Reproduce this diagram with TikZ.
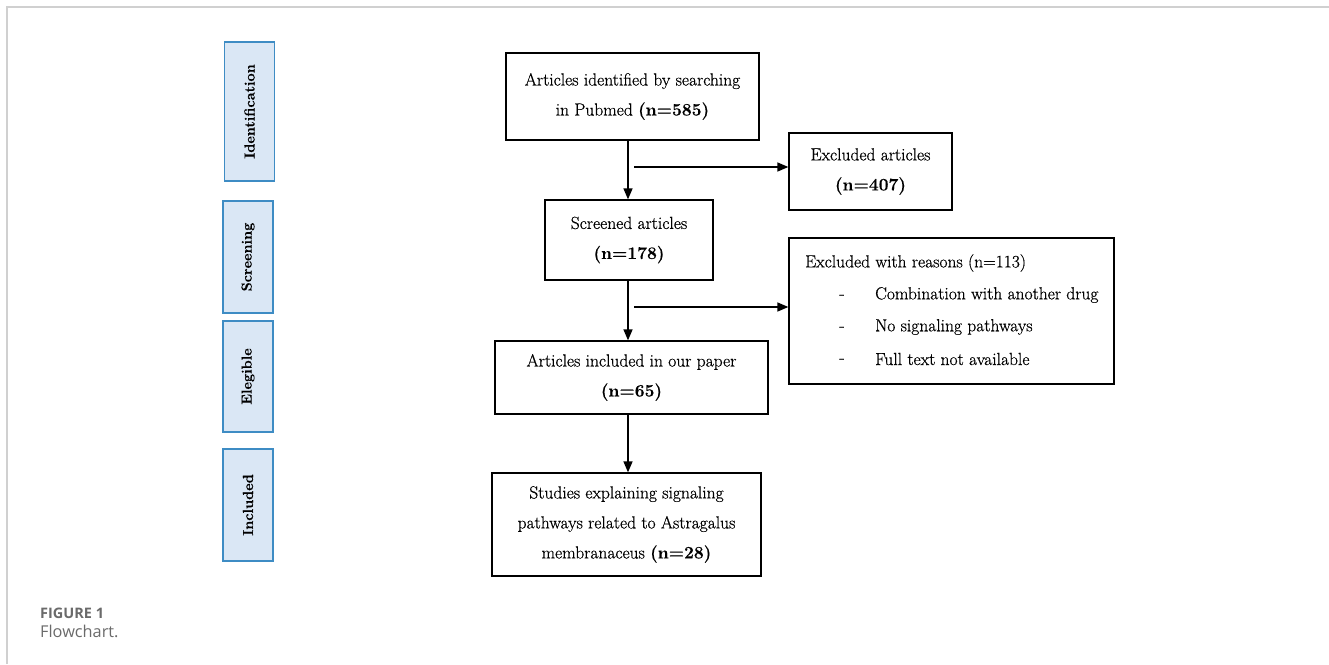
\documentclass[tikz,border=0pt]{standalone}
\usepackage{fontspec}
\newfontfamily\capfont{Open Sans}
\newfontfamily\boxfont{Latin Modern Roman}[FakeBold=0.6, BoldFont={Latin Modern Roman/B}, BoldFeatures={FakeBold=0.3}]
\usetikzlibrary{arrows.meta}
\definecolor{stagefill}{HTML}{DAE7F5}
\definecolor{stageline}{HTML}{3E8CC4}
\definecolor{framegray}{HTML}{D0D0D0}
\definecolor{capgray}{HTML}{6A6A6A}
\tikzset{
  mainbox/.style={draw=black, line width=1.3pt, inner sep=0pt, align=center,
    font=\boxfont\fontsize{17.5}{30}\selectfont},
  stagebox/.style={draw=stageline, fill=stagefill, line width=1.8pt, inner sep=0pt,
    minimum width=50pt},
  stagetext/.style={rotate=90, font=\boxfont\bfseries\fontsize{14.5}{16}\selectfont},
  flowarrow/.style={line width=1.5pt, -{Triangle[length=11pt,width=9pt]}},
  plaintext/.style={inner sep=0pt, font=\boxfont\fontsize{17.5}{20}\selectfont},
}
\begin{document}
\begin{tikzpicture}[x=1pt,y=-1pt]
\useasboundingbox (0,0) rectangle (1329,664);
% frame
\coordinate (fr1) at (7,664);
\coordinate (fr2) at (7,7);
\coordinate (fr3) at (1329,7);
\draw[framegray, line width=1.5pt] (fr1) -- (fr2) -- (fr3);

% stage boxes
\node[stagebox, minimum height=139pt] (sid) at (249.5,111.5) {};
\node[stagetext] at (sid.center) {Identification};
\node[stagebox, minimum height=112pt] (ssc) at (248,257) {};
\node[stagetext] at (ssc.center) {Screening};
\node[stagebox, minimum height=111pt] (sel) at (248,376.5) {};
\node[stagetext] at (sel.center) {Elegible};
\node[stagebox, minimum height=112pt] (sin) at (248,505) {};
\node[stagetext] at (sin.center) {Included};

% main boxes
\node[mainbox, minimum width=253pt, minimum height=87pt] (b1) at (632.5,96.5)
  {Articles identified by searching\\ in Pubmed \textbf{(n=585)}};
\node[mainbox, minimum width=168pt, minimum height=80pt] (b2) at (629,240)
  {Screened articles\\ \textbf{(n=178)}};
\node[mainbox, minimum width=273pt, minimum height=73pt] (b3) at (631.5,377.5)
  {Articles included in our paper\\ \textbf{(n=65)}};
\node[mainbox, minimum width=269pt, minimum height=103pt] (b4) at (626.5,524.5)
  {Studies explaining signaling\\ pathways related to Astragalus\\ membranaceus \textbf{(n=28)}};
\node[mainbox, minimum width=163pt, minimum height=77pt] (e1) at (870.5,171.5)
  {Excluded articles\\ \textbf{(n=407)}};
\node[mainbox, minimum width=325pt, minimum height=146pt] (e2) at (951.5,311) {};
\node[plaintext, anchor=west] (e2h) at (805,263) {Excluded with reasons (n=113)};
\node[plaintext] (d1) at (842,297) {-};
\node[plaintext, anchor=west] (r1) at (875,295) {Combination with another drug};
\node[plaintext] (d2) at (842,329) {-};
\node[plaintext, anchor=west] (r2) at (875,327) {No signaling pathways};
\node[plaintext] (d3) at (842,361) {-};
\node[plaintext, anchor=west] (r3) at (875,359) {Full text not available};

% connectors
\coordinate (spine) at (628,0);
\coordinate (tap1) at (634,167);
\coordinate (tap2) at (634,307);
\draw[flowarrow] (b1.south -| spine) -- (b2.north -| spine);
\draw[flowarrow] (b2.south -| spine) -- (b3.north -| spine);
\draw[flowarrow] (b3.south -| spine) -- (b4.north -| spine);
\draw[flowarrow] (tap1) -- (e1.west |- tap1);
\draw[flowarrow] (tap2) -- (e2.west |- tap2);

% caption
\node[anchor=west, inner sep=0pt, text=capgray, font=\capfont\bfseries\fontsize{14.5}{16}\selectfont] (capA) at (40,613) {FIGURE 1};
\node[anchor=west, inner sep=0pt, text=capgray, font=\capfont\fontsize{16.3}{19}\selectfont] (capB) at (40,631) {Flowchart.};
\end{tikzpicture}
\end{document}
